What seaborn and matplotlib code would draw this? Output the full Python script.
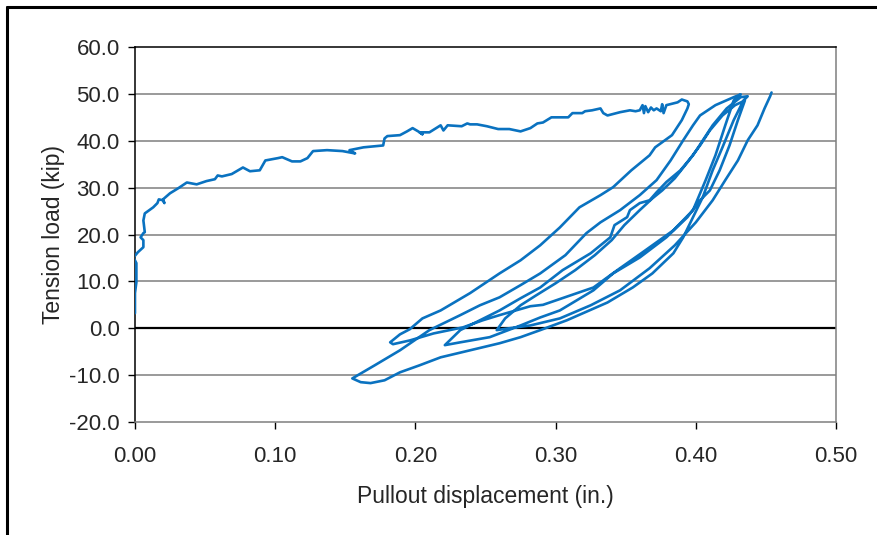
"""Pullout test hysteresis: tension load vs pullout displacement."""

import matplotlib.pyplot as plt
import numpy as np
import pandas as pd
import seaborn as sns
from matplotlib.lines import Line2D
from matplotlib.ticker import FormatStrFormatter, MultipleLocator

# monotonic envelope up to first unloading
disp_envelope = [0.000, 0.000, 0.000, 0.001, 0.001, -0.001, 0.002, 0.006, 0.006, 0.004, 0.006, 0.007,
                 0.006, 0.007, 0.013, 0.016, 0.017, 0.020, 0.021, 0.020, 0.025, 0.031, 0.037, 0.044,
                 0.051, 0.057, 0.059, 0.062, 0.069, 0.077, 0.082, 0.089, 0.093, 0.102, 0.105, 0.112,
                 0.118, 0.123, 0.127, 0.137, 0.148, 0.157, 0.153, 0.163, 0.177, 0.178, 0.180, 0.189,
                 0.194, 0.198, 0.202, 0.205, 0.203, 0.210, 0.218, 0.220, 0.223, 0.233, 0.237, 0.239,
                 0.244, 0.251, 0.259, 0.267, 0.275, 0.282, 0.287, 0.291, 0.297, 0.309, 0.312, 0.319,
                 0.321, 0.326, 0.332, 0.334, 0.337, 0.346, 0.353, 0.357, 0.360, 0.362, 0.363, 0.364,
                 0.366, 0.368, 0.370, 0.372, 0.375, 0.376, 0.377, 0.379, 0.387, 0.390, 0.394, 0.395]
load_envelope = [3.2, 4.9, 7.5, 9.8, 13.9, 15.1, 16.2, 17.3, 18.8, 19.4, 20.3, 20.5,
                 23.0, 24.5, 25.8, 26.7, 27.5, 27.3, 26.7, 27.5, 28.8, 29.9, 31.1, 30.7,
                 31.4, 31.8, 32.6, 32.4, 32.9, 34.3, 33.5, 33.7, 35.8, 36.3, 36.5, 35.6,
                 35.6, 36.3, 37.8, 38.0, 37.8, 37.3, 38.0, 38.6, 39.0, 40.5, 41.0, 41.2,
                 42.0, 42.7, 42.0, 41.4, 41.8, 41.8, 43.3, 42.2, 43.3, 43.1, 43.7, 43.5,
                 43.5, 43.1, 42.5, 42.5, 42.0, 42.7, 43.7, 43.9, 45.0, 45.0, 45.9, 45.9,
                 46.3, 46.5, 46.9, 45.9, 45.4, 46.1, 46.5, 46.3, 46.5, 47.6, 45.9, 47.4,
                 46.1, 47.1, 46.5, 46.9, 46.3, 47.8, 45.9, 47.6, 48.2, 48.8, 48.4, 47.8]

# cycle 1
disp_unload1 = [0.394, 0.390, 0.383, 0.371, 0.367, 0.354, 0.341, 0.332, 0.317, 0.303, 0.289,
                0.275, 0.260, 0.239, 0.218, 0.205, 0.196, 0.189, 0.182]
load_unload1 = [46.9, 44.4, 41.2, 38.6, 36.9, 33.7, 30.1, 28.4, 25.8, 21.5, 17.7,
                14.5, 11.7, 7.5, 3.8, 2.1, -0.2, -1.3, -3.0]
disp_reload1 = [0.184, 0.196, 0.213, 0.234, 0.248, 0.260, 0.282, 0.291, 0.327, 0.344, 0.362,
                0.384, 0.398, 0.407, 0.414, 0.421, 0.427, 0.432]
load_reload1 = [-3.4, -2.6, -1.1, 0.2, 1.7, 2.8, 4.7, 5.0, 8.7, 12.4, 16.2,
                20.9, 25.2, 31.6, 36.9, 43.3, 48.6, 49.9]

# cycle 2
disp_unload2 = [0.427, 0.414, 0.403, 0.398, 0.391, 0.382, 0.372, 0.360, 0.346, 0.332, 0.322,
                0.307, 0.289, 0.275, 0.260, 0.246, 0.232, 0.210, 0.189, 0.171, 0.155]
load_unload2 = [49.3, 47.6, 45.4, 43.3, 40.1, 35.8, 31.6, 28.4, 25.2, 22.6, 20.3,
                15.6, 11.7, 9.2, 6.6, 4.9, 2.8, -0.4, -4.7, -7.9, -10.7]
disp_reload2 = [0.161, 0.168, 0.178, 0.189, 0.203, 0.218, 0.239, 0.260, 0.275, 0.289, 0.308,
                0.337, 0.355, 0.369, 0.384, 0.391, 0.398, 0.405, 0.412, 0.419, 0.427, 0.434, 0.437]
load_reload2 = [-11.5, -11.7, -11.1, -9.4, -7.9, -6.2, -4.7, -3.2, -1.9, -0.4, 1.7,
                5.5, 8.7, 11.7, 16.0, 19.4, 23.7, 28.0, 33.7, 38.6, 44.4, 48.6, 49.5]

# cycle 3
disp_unload3 = [0.432, 0.422, 0.412, 0.405, 0.398, 0.389, 0.379, 0.372, 0.367, 0.360, 0.353,
                0.351, 0.342, 0.339, 0.325, 0.305, 0.289, 0.275, 0.260, 0.246, 0.232, 0.221]
load_unload3 = [49.3, 46.9, 43.3, 40.1, 36.9, 33.7, 31.2, 29.0, 27.3, 26.7, 25.2,
                23.7, 22.0, 19.4, 16.0, 12.4, 8.7, 6.4, 3.8, 1.7, -0.4, -3.6]
disp_reload3 = [0.232, 0.253, 0.275, 0.289, 0.303, 0.327, 0.341, 0.360, 0.379, 0.394, 0.403,
                0.410, 0.417, 0.424, 0.430, 0.435]
load_reload3 = [-3.0, -1.9, 0.6, 2.3, 3.8, 8.1, 11.7, 15.1, 19.4, 23.7, 27.3,
                29.4, 33.7, 39.0, 44.4, 48.6]

# cycle 4
disp_unload4 = [0.428, 0.419, 0.410, 0.403, 0.394, 0.385, 0.376, 0.369, 0.360, 0.349, 0.340,
                0.328, 0.314, 0.300, 0.286, 0.275, 0.264, 0.258]
load_unload4 = [47.6, 45.4, 42.2, 39.0, 35.4, 32.0, 29.4, 27.7, 25.2, 22.0, 18.8,
                15.6, 12.4, 9.6, 7.0, 4.9, 2.1, -0.4]
disp_reload4 = [0.267, 0.282, 0.303, 0.325, 0.346, 0.367, 0.385, 0.400, 0.412, 0.421, 0.430,
                0.437, 0.444, 0.449, 0.453, 0.454]
load_reload4 = [0.0, 0.6, 2.1, 4.9, 8.1, 12.8, 17.7, 22.6, 27.3, 31.6, 35.8,
                40.1, 43.3, 46.9, 49.5, 50.3]

y_ticks = np.arange(-20, 61, 10)

disp = (disp_envelope + disp_unload1 + disp_reload1 + disp_unload2 + disp_reload2
        + disp_unload3 + disp_reload3 + disp_unload4 + disp_reload4)
load = (load_envelope + load_unload1 + load_reload1 + load_unload2 + load_reload2
        + load_unload3 + load_reload3 + load_unload4 + load_reload4)
df = pd.DataFrame({"disp": disp, "load": load})

sns.set_style("white")
plt.rcParams["font.family"] = ["Liberation Sans", "DejaVu Sans"]

fig = plt.figure(figsize=(8.77, 5.35), dpi=100)
ax = fig.add_axes([0.1539, 0.2112, 0.7994, 0.7009])

for y in y_ticks:
    if y == 0:
        ax.axhline(y, color="black", lw=1.6, zorder=1)
    elif y not in (-20, 60):
        ax.axhline(y, color="#7f7f7f", lw=1.1, zorder=1)

sns.lineplot(data=df, x="disp", y="load", sort=False, estimator=None,
             color="#0a72c0", lw=1.9, ax=ax, zorder=3)

ax.set_xlim(0, 0.5)
ax.set_ylim(-20, 60)
ax.xaxis.set_major_locator(MultipleLocator(0.1))
ax.yaxis.set_major_locator(MultipleLocator(10))
ax.xaxis.set_major_formatter(FormatStrFormatter("%.2f"))
ax.yaxis.set_major_formatter(FormatStrFormatter("%.1f"))
ax.tick_params(axis="both", direction="out", length=5, width=1, color="black",
               labelsize=16, bottom=True, left=True)
ax.tick_params(axis="x", pad=12)
ax.tick_params(axis="y", pad=6)

for side in ["left", "top"]:
    ax.spines[side].set_color("black")
    ax.spines[side].set_linewidth(1.1)
for side in ["right", "bottom"]:
    ax.spines[side].set_color("#7f7f7f")
    ax.spines[side].set_linewidth(1.1)

ax.set_xlabel("Pullout displacement (in.)", fontsize=16.5, labelpad=13)
ax.set_ylabel("Tension load (kip)", fontsize=16.5, labelpad=3)

# outer frame of the exhibit
fig.add_artist(Line2D([7 / 877, 7 / 877], [0, 1 - 7 / 535], color="black", lw=2.2))
fig.add_artist(Line2D([7 / 877, 1], [1 - 7 / 535, 1 - 7 / 535], color="black", lw=2.2))

fig.savefig("out.png", dpi=100)
plt.close(fig)
